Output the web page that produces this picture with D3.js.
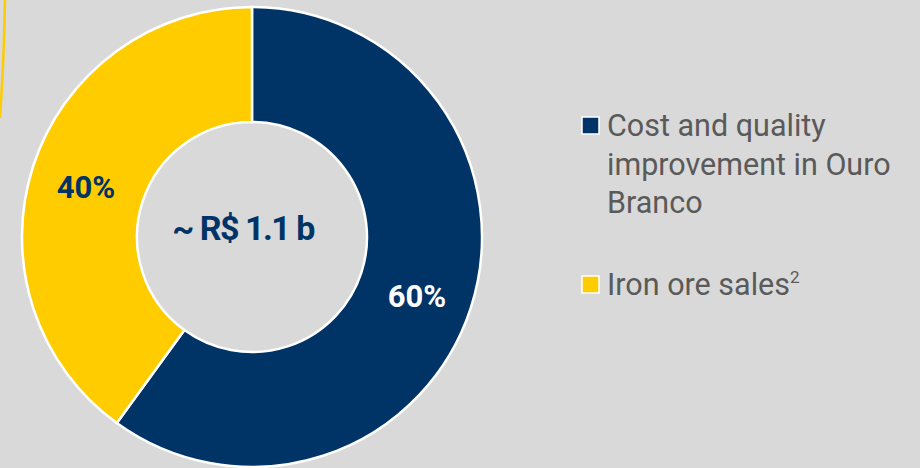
<!DOCTYPE html>
<html><head><meta charset="utf-8">
<script src="https://cdn.jsdelivr.net/npm/d3@7"></script>
<style>
html,body{margin:0;padding:0;background:#d9d9d9;}
svg{display:block;}
</style></head>
<body>
<svg id="chart" width="920" height="468"></svg>
<script>
const categories = ["Cost and quality improvement in Ouro Branco", "Iron ore sales"];
const values = [60, 40];
const valueLabels = ["60%", "40%"];
const centerLabel = "~ R$ 1.1 b";
const colors = ["#003366", "#ffcc00"];
const labelColors = ["#ffffff", "#003366"];

const svg = d3.select("#chart");
svg.append("rect").attr("width",920).attr("height",468).attr("fill","#d9d9d9");

// decorative thin yellow arc at top-left
svg.append("path").attr("d","M5,0 Q4,60 0,118").attr("fill","none")
  .attr("stroke","#ffcc00").attr("stroke-width",2.5);

const cx = 252, cy = 237, rOuter = 230, rInner = 115;
const g = svg.append("g").attr("transform",`translate(${cx},${cy})`);
const pie = d3.pie().sort(null).value(d=>d)(values);
const arc = d3.arc().innerRadius(rInner).outerRadius(rOuter);
g.selectAll("path.slice").data(pie).enter().append("path")
  .attr("class","slice").attr("d",arc)
  .attr("fill",(d,i)=>colors[i]).attr("stroke","#ffffff").attr("stroke-width",2.5);

const labelPos = [[417-cx, 296-cy],[86-cx, 187-cy]];
g.selectAll("text.val").data(pie).enter().append("text")
  .attr("class","val")
  .attr("x",(d,i)=>labelPos[i][0]).attr("y",(d,i)=>labelPos[i][1])
  .attr("text-anchor","middle").attr("dominant-baseline","central")
  .attr("font-family","Roboto, sans-serif").attr("font-weight","bold")
  .attr("font-size",31).attr("fill",(d,i)=>labelColors[i])
  .text((d,i)=>valueLabels[i]);

g.append("text").attr("x",243-cx).attr("y",228-cy)
  .attr("text-anchor","middle").attr("dominant-baseline","central")
  .attr("font-family","Roboto, sans-serif").attr("font-weight","bold")
  .attr("font-size",34).attr("letter-spacing",-1.5).attr("fill","#003366")
  .text(centerLabel);

// legend
const legend = svg.append("g");
const legendLines = [["Cost and quality","improvement in Ouro","Branco"],["Iron ore sales"]];
const legendTop = [136, 295];
legendLines.forEach((lines,i)=>{
  legend.append("rect").attr("x",582).attr("y",legendTop[i]-19).attr("width",17).attr("height",17)
    .attr("fill",colors[i]).attr("stroke","#ffffff").attr("stroke-width",1.5);
  const t = legend.append("text").attr("x",607).attr("y",legendTop[i])
    .attr("font-family","Roboto, sans-serif").attr("font-size",30.5).attr("fill","#5a5a5a");
  lines.forEach((l,j)=>{
    t.append("tspan").attr("x",607).attr("y",legendTop[i]+j*38.5).text(l);
  });
  if(i===1){
    t.append("tspan").attr("dy",-12).attr("font-size",17).text("2");
  }
});
</script>
</body></html>
